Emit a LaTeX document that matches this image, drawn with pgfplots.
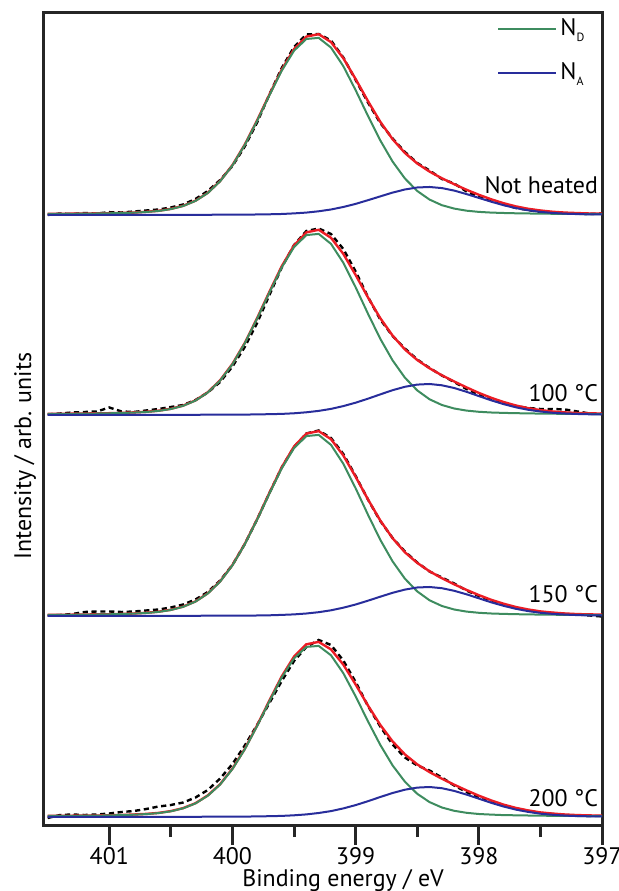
\documentclass[border=0pt,12pt]{standalone}
\usepackage{fontspec}
\setmainfont{PT Sans}
\usepackage{pgfplots}
\pgfplotsset{compat=1.18}
\usepackage{pgfplotstable}

\definecolor{cD}{RGB}{62,140,95}
\definecolor{cA}{RGB}{40,45,155}
\definecolor{cF}{RGB}{236,28,36}

\pgfplotsset{
  spec/.style={width=279bp,height=406bp,scale only axis,xmin=397,xmax=401.53,x dir=reverse},
  dat/.style={black, line width=1.2bp, dash pattern=on 2.6bp off 1.8bp},
  fitl/.style={cF, line width=1.2bp},
  ndl/.style={cD, line width=1bp},
  nal/.style={cA, line width=1bp},
}

% Not heated
\pgfplotstableread{
x D A F M
401.5 1.0 0.1 1.1 0.0
401.4 1.1 0.1 1.2 1.5
401.3 1.2 0.1 1.3 1.0
401.2 1.3 0.1 1.4 2.0
401.1 1.5 0.1 1.6 1.5
401.0 1.7 0.1 1.8 2.8
400.9 2.0 0.1 2.1 2.5
400.8 2.3 0.1 2.4 3.5
400.7 3.0 0.2 3.2 4.5
400.6 4.0 0.2 4.2 5.5
400.5 5.9 0.2 6.1 7.5
400.4 9.0 0.2 9.2 10.5
400.3 14.1 0.2 14.3 16.0
400.2 22.0 0.2 22.2 24.0
400.1 33.7 0.3 34.0 35.0
400.0 49.6 0.3 49.9 49.0
399.9 70.0 0.4 70.4 68.5
399.8 94.1 0.5 94.6 92.5
399.7 119.7 0.7 120.4 120.5
399.6 144.3 1.0 145.3 147.0
399.5 164.3 1.6 165.9 168.0
399.4 176.0 2.4 178.4 180.5
399.3 177.1 3.7 180.8 181.0
399.2 167.4 5.5 172.9 174.5
399.1 148.8 8.0 156.8 157.5
399.0 124.8 11.1 135.9 135.0
398.9 99.1 14.8 113.9 112.5
398.8 74.6 18.6 93.2 92.0
398.7 53.4 22.4 75.8 76.5
398.6 36.5 25.5 62.0 63.0
398.5 24.0 27.5 51.5 52.0
398.4 15.4 28.0 43.4 44.5
398.3 9.8 26.9 36.7 36.0
398.2 6.4 24.4 30.8 31.5
398.1 4.3 20.9 25.2 23.5
398.0 3.1 17.1 20.2 18.0
397.9 2.4 13.3 15.7 14.5
397.8 2.0 9.8 11.8 10.5
397.7 1.7 6.9 8.6 7.0
397.6 1.5 4.7 6.2 5.0
397.5 1.4 3.1 4.5 3.0
397.4 1.2 2.0 3.2 2.5
397.3 1.1 1.3 2.4 1.5
397.2 1.0 0.9 1.9 1.5
397.1 0.9 0.6 1.5 1.0
397.0 0.9 0.5 1.4 1.5
}\specA

% 100 C
\pgfplotstableread{
x D A F M
401.5 1.0 0.1 1.1 0.5
401.4 1.1 0.1 1.2 1.5
401.3 1.2 0.1 1.3 2.5
401.2 1.4 0.1 1.5 3.0
401.1 1.5 0.1 1.6 3.5
401.0 1.7 0.1 1.8 7.5
400.9 2.0 0.1 2.1 3.5
400.8 2.4 0.2 2.6 3.0
400.7 3.0 0.2 3.2 4.5
400.6 4.1 0.2 4.3 6.0
400.5 6.0 0.2 6.2 8.0
400.4 9.2 0.2 9.4 10.0
400.3 14.4 0.2 14.6 15.0
400.2 22.5 0.3 22.8 22.5
400.1 34.4 0.3 34.7 33.0
400.0 50.7 0.4 51.1 48.5
399.9 71.6 0.4 72.0 68.0
399.8 96.2 0.6 96.8 92.0
399.7 122.4 0.8 123.2 120.0
399.6 147.6 1.1 148.7 147.5
399.5 167.9 1.7 169.6 170.0
399.4 179.9 2.7 182.6 184.0
399.3 181.1 4.1 185.2 186.5
399.2 171.1 6.1 177.2 181.0
399.1 152.2 8.9 161.1 166.0
399.0 127.7 12.3 140.0 143.5
398.9 101.3 16.3 117.6 118.0
398.8 76.2 20.6 96.8 95.5
398.7 54.6 24.8 79.4 79.0
398.6 37.3 28.2 65.5 66.5
398.5 24.6 30.4 55.0 55.5
398.4 15.7 31.0 46.7 47.0
398.3 10.0 29.7 39.7 39.5
398.2 6.5 27.0 33.5 33.0
398.1 4.4 23.2 27.6 26.0
398.0 3.2 18.9 22.1 20.5
397.9 2.5 14.7 17.2 16.5
397.8 2.1 10.9 13.0 12.0
397.7 1.8 7.7 9.5 9.0
397.6 1.6 5.2 6.8 7.0
397.5 1.4 3.5 4.9 6.0
397.4 1.3 2.2 3.5 6.0
397.3 1.1 1.5 2.6 5.5
397.2 1.0 1.0 2.0 3.5
397.1 1.0 0.7 1.7 1.5
397.0 0.9 0.5 1.4 1.0
}\specB

% 150 C
\pgfplotstableread{
x D A F M
401.5 1.0 0.1 1.1 0.5
401.4 1.1 0.1 1.2 1.0
401.3 1.2 0.1 1.3 2.0
401.2 1.4 0.1 1.5 4.0
401.1 1.5 0.1 1.6 4.5
401.0 1.7 0.1 1.8 4.5
400.9 2.0 0.1 2.1 4.0
400.8 2.4 0.1 2.5 4.5
400.7 3.0 0.2 3.2 5.5
400.6 4.1 0.2 4.3 6.5
400.5 6.0 0.2 6.2 8.5
400.4 9.2 0.2 9.4 11.5
400.3 14.4 0.2 14.6 16.5
400.2 22.5 0.3 22.8 24.0
400.1 34.4 0.3 34.7 35.5
400.0 50.7 0.3 51.0 51.0
399.9 71.6 0.4 72.0 72.0
399.8 96.2 0.5 96.7 96.5
399.7 122.4 0.7 123.1 123.0
399.6 147.6 1.1 148.7 148.5
399.5 167.9 1.6 169.5 169.0
399.4 179.9 2.5 182.4 182.5
399.3 181.1 3.8 184.9 185.5
399.2 171.1 5.7 176.8 178.0
399.1 152.2 8.3 160.5 162.0
399.0 127.7 11.5 139.2 140.0
398.9 101.3 15.3 116.6 116.5
398.8 76.2 19.3 95.5 95.0
398.7 54.6 23.2 77.8 78.0
398.6 37.3 26.4 63.7 64.5
398.5 24.6 28.5 53.1 53.5
398.4 15.7 29.0 44.7 44.5
398.3 10.0 27.8 37.8 38.5
398.2 6.5 25.2 31.7 32.5
398.1 4.4 21.7 26.1 25.5
398.0 3.2 17.7 20.9 20.0
397.9 2.5 13.7 16.2 15.5
397.8 2.1 10.2 12.3 11.5
397.7 1.8 7.2 9.0 8.0
397.6 1.6 4.9 6.5 6.0
397.5 1.4 3.2 4.6 4.0
397.4 1.3 2.1 3.4 3.0
397.3 1.1 1.4 2.5 2.0
397.2 1.0 0.9 1.9 1.5
397.1 1.0 0.6 1.6 0.5
397.0 0.9 0.5 1.4 -0.5
}\specC

% 200 C
\pgfplotstableread{
x D A F M
401.5 1.0 0.1 1.1 -1.0
401.4 1.1 0.1 1.2 2.0
401.3 1.2 0.1 1.3 2.5
401.2 1.3 0.1 1.4 2.0
401.1 1.4 0.1 1.5 2.5
401.0 1.6 0.1 1.7 3.5
400.9 1.9 0.1 2.0 5.0
400.8 2.3 0.2 2.5 6.0
400.7 2.9 0.2 3.1 8.0
400.6 3.9 0.2 4.1 10.5
400.5 5.7 0.2 5.9 12.0
400.4 8.7 0.2 8.9 14.5
400.3 13.6 0.2 13.8 19.5
400.2 21.3 0.3 21.6 27.0
400.1 32.5 0.3 32.8 38.5
400.0 48.0 0.4 48.4 53.0
399.9 67.7 0.4 68.1 71.5
399.8 90.9 0.6 91.5 92.0
399.7 115.7 0.8 116.5 114.0
399.6 139.5 1.1 140.6 136.0
399.5 158.7 1.7 160.4 156.0
399.4 170.1 2.6 172.7 170.0
399.3 171.1 4.0 175.1 177.0
399.2 161.7 5.9 167.6 172.0
399.1 143.8 8.6 152.4 156.5
399.0 120.6 11.9 132.5 135.0
398.9 95.7 15.8 111.5 111.0
398.8 72.1 20.0 92.1 90.5
398.7 51.6 24.0 75.6 72.5
398.6 35.3 27.3 62.6 59.5
398.5 23.2 29.4 52.6 51.5
398.4 14.9 30.0 44.9 46.5
398.3 9.5 28.8 38.3 39.5
398.2 6.2 26.1 32.3 31.5
398.1 4.2 22.4 26.6 25.0
398.0 3.0 18.3 21.3 19.5
397.9 2.4 14.2 16.6 15.0
397.8 1.9 10.5 12.4 11.5
397.7 1.7 7.4 9.1 8.5
397.6 1.5 5.1 6.6 6.0
397.5 1.3 3.3 4.6 4.0
397.4 1.2 2.2 3.4 3.0
397.3 1.1 1.4 2.5 2.0
397.2 1.0 0.9 1.9 1.5
397.1 0.9 0.7 1.6 1.0
397.0 0.8 0.5 1.3 1.0
}\specD

\begin{document}
\begin{tikzpicture}
% main axis: 200 C
\begin{axis}[spec, name=main,
  ymin=-8, ymax=804,
  axis line style={black!85, line width=1.5bp},
  xtick={397,398,399,400,401},
  minor xtick={397.5,398.5,399.5,400.5},
  xtick pos=lower, ytick=\empty,
  tick align=outside,
  major tick length=10bp, minor tick length=6bp,
  every tick/.style={black!85, line width=1.5bp},
  /pgf/number format/assume math mode=true,
  xticklabel style={inner sep=0pt, yshift=-0.8bp},
  xlabel={Binding energy / eV},
  xlabel style={at={(axis description cs:0.536,-0.0680)}, anchor=center, inner sep=0pt},
  ylabel={Intensity / arb. units},
  ylabel style={at={(axis description cs:-0.034,0.4544)}, anchor=center, rotate=0},
]
\addplot[dat] table[x=x,y=M]{\specD};
\addplot[fitl] table[x=x,y=F]{\specD};
\addplot[ndl] table[x=x,y=D]{\specD};
\addplot[nal] table[x=x,y=A]{\specD};
\node[anchor=east, inner sep=0pt] at (axis cs:397.03,19) {200 °C};
\end{axis}
% 150 C
\begin{axis}[spec, hide axis, ymin=-209, ymax=603]
\addplot[dat] table[x=x,y=M]{\specC};
\addplot[fitl] table[x=x,y=F]{\specC};
\addplot[ndl] table[x=x,y=D]{\specC};
\addplot[nal] table[x=x,y=A]{\specC};
\node[anchor=east, inner sep=0pt] at (axis cs:397.03,22) {150 °C};
\end{axis}
% 100 C
\begin{axis}[spec, hide axis, ymin=-410, ymax=402]
\addplot[dat] table[x=x,y=M]{\specB};
\addplot[fitl] table[x=x,y=F]{\specB};
\addplot[ndl] table[x=x,y=D]{\specB};
\addplot[nal] table[x=x,y=A]{\specB};
\node[anchor=east, inner sep=0pt] at (axis cs:397.03,22) {100 °C};
\end{axis}
% Not heated
\begin{axis}[spec, hide axis, ymin=-610, ymax=202,
  legend style={draw=none, fill=none, at={(axis description cs:0.812,0.997)}, anchor=north west,
    inner xsep=0pt, inner ysep=0pt, row sep=8.5bp, nodes={inner sep=1.5bp}},
  legend cell align=left,
  legend image code/.code={\draw[#1] (0bp,0bp) -- (29bp,0bp);},
]
\addplot[dat, forget plot] table[x=x,y=M]{\specA};
\addplot[fitl, forget plot] table[x=x,y=F]{\specA};
\addplot[ndl] table[x=x,y=D]{\specA};
\addlegendentry{N\raisebox{-0.5ex}{\fontsize{6}{7}\selectfont D}}
\addplot[nal] table[x=x,y=A]{\specA};
\addlegendentry{N\raisebox{-0.5ex}{\fontsize{6}{7}\selectfont A}}
\node[anchor=east, inner sep=0pt] at (axis cs:397.03,30) {Not heated};
\end{axis}
\pgfresetboundingbox
\path[use as bounding box] ([xshift=-22bp,yshift=-33bp]main.south west) rectangle ([xshift=8.5bp,yshift=6.5bp]main.north east);
\end{tikzpicture}
\end{document}
